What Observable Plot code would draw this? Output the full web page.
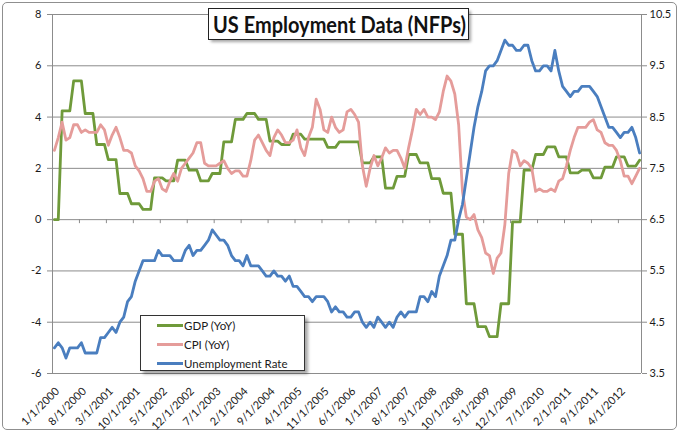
<!DOCTYPE html>
<html>
<head>
<meta charset="utf-8">
<script src="https://cdn.jsdelivr.net/npm/d3@7"></script>
<script src="https://cdn.jsdelivr.net/npm/@observablehq/plot@0.6"></script>
<style>
  body { margin: 0; background: #fff; }
  #wrap { position: relative; width: 680px; height: 433px; font-family: Lato, "Open Sans", sans-serif; }
  #border { position: absolute; left: 2px; top: 2px; width: 673px; height: 426px; border: 1px solid #8f8f8f; border-radius: 5px; }
  #chart { position: absolute; left: 0; top: 0; }
  #legend { position: absolute; left: 140px; top: 315px; width: 165px; height: 56px; box-sizing: border-box;
            border: 1px solid #333; background: #fff; box-shadow: 3px 3px 3px rgba(0,0,0,0.35);
            font-size: 11.5px; color: #1a1a1a; }
  .row { position: absolute; left: 16px; height: 14px; display: flex; align-items: center; white-space: nowrap; }
  .sw { width: 26px; height: 3px; margin-right: 1px; }
</style>
</head>
<body>
<div id="wrap">
  <div id="border"></div>
  <div id="chart"></div>
  <div id="legend"></div>
</div>
<script>
// ---------------- data ----------------
const titleText = "US Employment Data (NFPs)";
const seriesNames = ["GDP (YoY)", "CPI (YoY)", "Unemployment Rate"];
const seriesColors = ["#6f9a3a", "#e59c9a", "#4a7ebf"];

// monthly categories Jan 2000 .. Sep 2012
const categories = d3.utcMonth.range(new Date(Date.UTC(2000, 0, 1)), new Date(Date.UTC(2012, 9, 1)))
  .map(d => `${d.getUTCMonth() + 1}/1/${d.getUTCFullYear()}`);

const xTickLabels = ["1/1/2000","8/1/2000","3/1/2001","10/1/2001","5/1/2002","12/1/2002","7/1/2003",
  "2/1/2004","9/1/2004","4/1/2005","11/1/2005","6/1/2006","1/1/2007","8/1/2007","3/1/2008",
  "10/1/2008","5/1/2009","12/1/2009","7/1/2010","2/1/2011","9/1/2011","4/1/2012"];

const leftTicks = [-6, -4, -2, 0, 2, 4, 6, 8];
const leftTickLabels = ["-6", "-4", "-2", "0", "2", "4", "6", "8"];
const rightTickLabels = ["3.5", "4.5", "5.5", "6.5", "7.5", "8.5", "9.5", "10.5"];

const gdp = [0,0,
 4.24,4.24,4.24, 5.41,5.41,5.41, 4.14,4.14,4.14, 2.93,2.93,2.93,
 2.34,2.34,2.34, 1.02,1.02,1.02, 0.62,0.62,0.62, 0.40,0.40,0.40,
 1.63,1.63,1.63, 1.51,1.51,1.51, 2.32,2.32,2.32, 1.93,1.93,1.93,
 1.51,1.51,1.51, 1.80,1.80,1.80, 3.03,3.03,3.03, 3.91,3.91,3.91,
 4.14,4.14,4.14, 3.91,3.91,3.91, 3.06,3.06,3.06, 2.93,2.93,2.93,
 3.33,3.33,3.33, 3.14,3.14,3.14, 3.14,3.14,3.14, 2.82,2.82,2.82,
 3.03,3.03,3.03, 3.03,3.03,3.03, 2.21,2.21,2.21, 2.45,2.45,2.45,
 1.23,1.23,1.23, 1.69,1.69,1.69, 2.54,2.54,2.54, 2.21,2.21,2.21,
 1.60,1.60,1.60, 1.03,1.03,1.03, -0.57,-0.57,-0.57, -3.28,-3.28,-3.28,
 -4.17,-4.17,-4.17, -4.56,-4.56,-4.56, -3.28,-3.28,-3.28, -0.09,-0.09,-0.09,
 1.93,1.93,1.93, 2.54,2.54,2.54, 2.84,2.84,2.84, 2.45,2.45,2.45,
 1.82,1.82,1.82, 1.93,1.93,1.93, 1.63,1.63,1.63, 2.05,2.05,2.05,
 2.45,2.45,2.45, 2.09,2.09,2.09,
 2.32];

const cpi = [
 2.7,3.2,3.8,3.1,3.2,3.7,3.7,3.4,3.5,3.4,3.4,3.4,
 3.7,3.5,2.9,3.3,3.6,3.2,2.7,2.7,2.6,2.1,1.9,1.6,
 1.1,1.1,1.5,1.6,1.2,1.1,1.5,1.8,1.5,2.0,2.2,2.4,
 2.6,3.0,3.0,2.2,2.1,2.1,2.1,2.2,2.3,2.0,1.8,1.9,
 1.9,1.7,1.7,2.3,3.1,3.3,3.0,2.7,2.5,3.2,3.5,3.3,
 3.0,3.0,3.1,3.5,2.8,2.5,3.2,3.6,4.7,4.3,3.5,3.4,
 4.0,3.6,3.4,3.5,4.2,4.3,4.1,3.8,2.1,1.3,2.0,2.5,
 2.1,2.4,2.8,2.6,2.7,2.7,2.4,2.0,2.8,3.5,4.3,4.1,
 4.3,4.0,4.0,3.9,4.2,5.0,5.6,5.4,4.9,3.7,1.1,0.1,
 0.0,0.2,-0.4,-0.7,-1.3,-1.4,-2.1,-1.5,-1.3,-0.2,1.8,2.7,
 2.6,2.1,2.3,2.2,2.0,1.1,1.2,1.1,1.1,1.2,1.1,1.5,
 1.6,2.1,2.7,3.2,3.6,3.6,3.6,3.8,3.9,3.5,3.4,3.0,
 2.9,2.9,2.7,2.3,1.7,1.7,1.4,1.7,2.0];

const unemployment = [
 4.0,4.1,4.0,3.8,4.0,4.0,4.0,4.1,3.9,3.9,3.9,3.9,
 4.2,4.2,4.3,4.4,4.3,4.5,4.6,4.9,5.0,5.3,5.5,5.7,
 5.7,5.7,5.7,5.9,5.8,5.8,5.8,5.7,5.7,5.7,5.9,6.0,
 5.8,5.9,5.9,6.0,6.1,6.3,6.2,6.1,6.1,6.0,5.8,5.7,
 5.7,5.6,5.8,5.6,5.6,5.6,5.5,5.4,5.4,5.5,5.4,5.4,
 5.3,5.4,5.2,5.2,5.1,5.0,5.0,4.9,5.0,5.0,5.0,4.9,
 4.7,4.8,4.7,4.7,4.6,4.6,4.7,4.7,4.5,4.4,4.5,4.4,
 4.6,4.5,4.4,4.5,4.4,4.6,4.7,4.6,4.7,4.7,4.7,5.0,
 5.0,4.9,5.1,5.0,5.4,5.6,5.8,6.1,6.1,6.5,6.8,7.3,
 7.8,8.3,8.7,9.0,9.4,9.5,9.5,9.6,9.8,10.0,9.9,9.9,
 9.8,9.8,9.9,9.9,9.6,9.4,9.4,9.5,9.5,9.4,9.8,9.4,
 9.1,9.0,8.9,9.0,9.0,9.1,9.1,9.1,9.0,8.9,8.7,8.5,
 8.3,8.3,8.2,8.1,8.2,8.2,8.3,8.1,7.8];

// secondary axis (3.5..10.5) mapped onto primary (-6..8)
const toLeft = u => 2 * (u - 6.5);

// ---------------- layout ----------------
const W = 680, H = 433, mL = 52, mR = 39, mT = 14, mB = 60;
const pxPerUnit = (H - mT - mB) / (leftTicks[leftTicks.length - 1] - leftTicks[0]);
const n = categories.length;
const tickBoundaries = xTickLabels.map(l => categories.indexOf(l) - 0.5);
const gridColor = "#8c8c8c";
const textColor = "#1a1a1a";

const chart = Plot.plot({
  width: W, height: H,
  marginLeft: mL, marginRight: mR, marginTop: mT, marginBottom: mB,
  style: { fontFamily: "Lato, 'Open Sans', sans-serif", fontSize: "11px", background: "transparent", color: textColor },
  x: { domain: [-0.5, n - 0.5], axis: null },
  y: { domain: [leftTicks[0], leftTicks[leftTicks.length - 1]], axis: null },
  marks: [
    Plot.ruleY(leftTicks, { stroke: gridColor, strokeWidth: 1 }),
    Plot.ruleX([-0.5, n - 0.5], { stroke: gridColor, strokeWidth: 1 }),
    Plot.axisY({ anchor: "left", ticks: leftTicks, tickFormat: d => leftTickLabels[leftTicks.indexOf(d)],
      tickSize: 5, tickPadding: 6, stroke: gridColor, fill: textColor, fontSize: 11 }),
    Plot.axisY({ anchor: "right", ticks: leftTicks, tickFormat: d => rightTickLabels[leftTicks.indexOf(d)],
      tickSize: 5, tickPadding: 3, stroke: gridColor, fill: textColor, fontSize: 11 }),
    Plot.ruleX(tickBoundaries, { y1: 0, y2: -4 / pxPerUnit, stroke: gridColor, strokeWidth: 1 }),
    Plot.text(xTickLabels, { x: d => categories.indexOf(d), frameAnchor: "bottom", text: d => d,
      rotate: -45, textAnchor: "end", lineAnchor: "top", dy: 13, dx: 0, fontSize: 11, fill: textColor }),
    Plot.line(gdp, { x: (d, i) => i, y: d => d, stroke: seriesColors[0], strokeWidth: 2.8, strokeLinejoin: "round" }),
    Plot.line(cpi, { x: (d, i) => i, y: d => d, stroke: seriesColors[1], strokeWidth: 2.8, strokeLinejoin: "round" }),
    Plot.line(unemployment, { x: (d, i) => i, y: d => toLeft(d), stroke: seriesColors[2], strokeWidth: 2.8, strokeLinejoin: "round" })
  ]
});
document.getElementById("chart").appendChild(chart);

// title box
const svg = d3.select(chart);
const defs = svg.append("defs");
defs.append("filter").attr("id", "sh").attr("x", "-10%").attr("y", "-30%").attr("width", "130%").attr("height", "180%")
  .append("feGaussianBlur").attr("stdDeviation", 1.5);
const tg = svg.append("g").attr("text-anchor", "start");
tg.append("rect").attr("x", 211).attr("y", 11).attr("width", 260).attr("height", 31)
  .attr("fill", "#000").attr("opacity", 0.35).attr("filter", "url(#sh)");
tg.append("rect").attr("x", 208.5).attr("y", 8.5).attr("width", 260).attr("height", 31)
  .attr("fill", "#fff").attr("stroke", "#222").attr("stroke-width", 1);
tg.append("text").attr("x", 213).attr("y", 32.5).attr("text-anchor", "start")
  .attr("font-size", 22).attr("font-weight", "bold")
  .attr("font-family", "Lato, sans-serif").attr("fill", "#111")
  .attr("textLength", 253).attr("lengthAdjust", "spacingAndGlyphs").text(titleText);

// legend
const legend = document.getElementById("legend");
seriesNames.forEach((name, i) => {
  const row = document.createElement("div");
  row.className = "row";
  row.style.top = (2 + i * 19) + "px";
  const sw = document.createElement("div");
  sw.className = "sw";
  sw.style.background = seriesColors[i];
  const t = document.createElement("span");
  t.textContent = name;
  row.appendChild(sw); row.appendChild(t);
  legend.appendChild(row);
});
</script>
</body>
</html>
